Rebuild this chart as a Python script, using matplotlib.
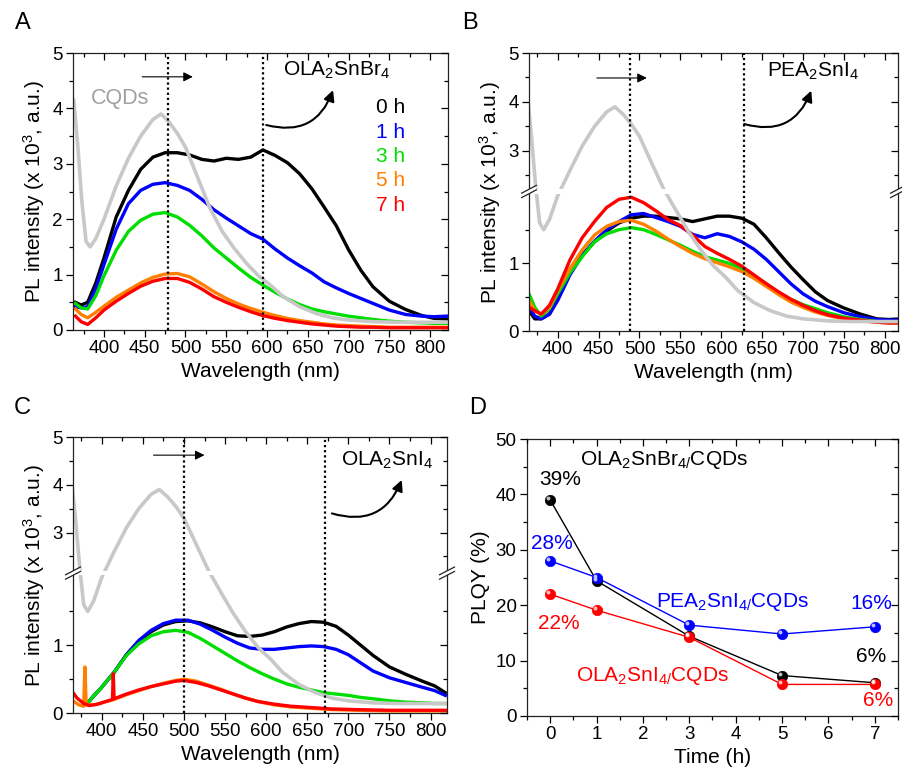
import numpy as np
import matplotlib
matplotlib.use('Agg')
import matplotlib.pyplot as plt
from matplotlib.ticker import MultipleLocator, FixedLocator
from matplotlib import transforms

plt.rcParams['font.family'] = ['Liberation Sans', 'DejaVu Sans']
plt.rcParams['mathtext.fontset'] = 'custom'
plt.rcParams['mathtext.rm'] = 'Liberation Sans'
plt.rcParams['mathtext.it'] = 'Liberation Sans:italic'
plt.rcParams['mathtext.bf'] = 'Liberation Sans:bold'

# --- data ---
# CQD reference spectrum (grey, same in A, B, C)
cqd_wl = [363, 368, 373, 378, 383, 390, 400, 415, 430, 445, 460, 470, 480, 490, 500,
          515, 530, 545, 560, 575, 590, 605, 620, 640, 660, 680, 700, 730, 760, 790, 820]
cqd = [4.15, 3.3, 2.3, 1.6, 1.5, 1.65, 2.0, 2.6, 3.1, 3.5, 3.8, 3.9, 3.75, 3.55, 3.3,
       2.75, 2.2, 1.78, 1.47, 1.2, 0.97, 0.8, 0.6, 0.42, 0.3, 0.22, 0.18, 0.15, 0.14, 0.14, 0.14]

wl = [365, 372, 380, 390, 400, 415, 430, 445, 460, 475, 490, 505, 520, 535, 550, 565,
      580, 595, 610, 625, 640, 655, 670, 685, 700, 715, 730, 750, 770, 790, 805, 820]

# A : OLA2SnBr4
a_0h = [0.5, 0.45, 0.5, 0.85, 1.3, 2.04, 2.52, 2.9, 3.12, 3.2, 3.2, 3.16, 3.08, 3.05, 3.1, 3.08,
        3.12, 3.25, 3.15, 3.02, 2.82, 2.55, 2.22, 1.88, 1.45, 1.08, 0.78, 0.52, 0.37, 0.26, 0.21, 0.2]
a_1h = [0.42, 0.4, 0.42, 0.75, 1.18, 1.82, 2.28, 2.52, 2.63, 2.66, 2.61, 2.52, 2.36, 2.17, 2.02, 1.88,
        1.74, 1.64, 1.46, 1.3, 1.16, 1.03, 0.87, 0.76, 0.66, 0.57, 0.48, 0.36, 0.28, 0.25, 0.24, 0.25]
a_3h = [0.48, 0.4, 0.38, 0.62, 0.98, 1.44, 1.78, 1.98, 2.09, 2.12, 2.04, 1.89, 1.7, 1.48, 1.3, 1.12,
        0.95, 0.81, 0.68, 0.56, 0.46, 0.38, 0.33, 0.29, 0.25, 0.22, 0.19, 0.16, 0.14, 0.13, 0.12, 0.12]
a_5h = [0.38, 0.28, 0.22, 0.32, 0.43, 0.59, 0.72, 0.85, 0.95, 1.01, 1.02, 0.96, 0.83, 0.69, 0.57, 0.47,
        0.39, 0.32, 0.26, 0.21, 0.17, 0.14, 0.11, 0.09, 0.08, 0.07, 0.06, 0.05, 0.05, 0.05, 0.05, 0.05]
a_7h = [0.25, 0.15, 0.1, 0.22, 0.36, 0.52, 0.66, 0.79, 0.88, 0.93, 0.93, 0.86, 0.74, 0.6, 0.5, 0.41,
        0.33, 0.26, 0.21, 0.17, 0.14, 0.11, 0.09, 0.07, 0.06, 0.05, 0.05, 0.04, 0.04, 0.04, 0.04, 0.04]

# B : PEA2SnI4
b_0h = [0.3, 0.18, 0.18, 0.25, 0.47, 0.85, 1.12, 1.32, 1.48, 1.6, 1.67, 1.7, 1.7, 1.68, 1.66, 1.62,
        1.66, 1.7, 1.7, 1.67, 1.58, 1.38, 1.16, 0.95, 0.76, 0.58, 0.45, 0.34, 0.25, 0.18, 0.17, 0.18]
b_1h = [0.38, 0.22, 0.18, 0.25, 0.45, 0.83, 1.12, 1.33, 1.5, 1.62, 1.72, 1.74, 1.68, 1.62, 1.55, 1.43,
        1.38, 1.44, 1.4, 1.32, 1.21, 1.06, 0.88, 0.7, 0.55, 0.44, 0.36, 0.27, 0.21, 0.17, 0.16, 0.16]
b_3h = [0.55, 0.35, 0.22, 0.33, 0.55, 0.86, 1.1, 1.32, 1.44, 1.5, 1.53, 1.5, 1.43, 1.35, 1.27, 1.18,
        1.1, 1.05, 1.0, 0.92, 0.82, 0.7, 0.57, 0.47, 0.39, 0.33, 0.27, 0.21, 0.17, 0.14, 0.12, 0.12]
b_5h = [0.45, 0.3, 0.25, 0.35, 0.6, 0.92, 1.2, 1.42, 1.55, 1.62, 1.64, 1.58, 1.48, 1.36, 1.25, 1.15,
        1.07, 1.01, 0.95, 0.88, 0.78, 0.66, 0.54, 0.43, 0.35, 0.28, 0.23, 0.18, 0.15, 0.13, 0.12, 0.12]
b_7h = [0.35, 0.3, 0.25, 0.38, 0.62, 1.05, 1.38, 1.62, 1.83, 1.95, 1.98, 1.9, 1.78, 1.65, 1.56, 1.42,
        1.25, 1.15, 1.06, 0.96, 0.83, 0.7, 0.58, 0.47, 0.38, 0.3, 0.24, 0.19, 0.16, 0.13, 0.12, 0.12]

# C : OLA2SnI4
wl_c = [383, 390, 400, 415, 430, 445, 460, 475, 490, 505, 520, 535, 550, 565, 580,
        595, 610, 625, 640, 655, 670, 685, 700, 715, 730, 750, 770, 790, 805, 818]
c_0h = [0.15, 0.25, 0.38, 0.6, 0.86, 1.06, 1.2, 1.3, 1.35, 1.36, 1.33, 1.27, 1.2, 1.14, 1.13,
        1.15, 1.2, 1.27, 1.32, 1.35, 1.34, 1.28, 1.15, 1.0, 0.85, 0.68, 0.57, 0.47, 0.4, 0.3]
c_1h = [0.15, 0.25, 0.38, 0.6, 0.86, 1.07, 1.22, 1.32, 1.37, 1.37, 1.31, 1.22, 1.12, 1.03, 0.96,
        0.94, 0.94, 0.96, 0.98, 0.99, 0.98, 0.94, 0.86, 0.74, 0.62, 0.52, 0.45, 0.38, 0.33, 0.26]
c_3h = [0.15, 0.25, 0.38, 0.6, 0.85, 1.02, 1.14, 1.2, 1.22, 1.19, 1.1, 0.99, 0.88, 0.77, 0.67,
        0.58, 0.5, 0.43, 0.38, 0.34, 0.3, 0.28, 0.26, 0.23, 0.21, 0.18, 0.16, 0.15, 0.14, 0.14]
wl_c5 = [365, 372, 378, 379.5, 381, 390, 400, 415, 430, 445, 460, 475, 490, 500, 515,
         530, 545, 560, 575, 590, 610, 630, 655, 680, 710, 750, 790, 820]
c_5h = [0.18, 0.12, 0.1, 0.68, 0.12, 0.12, 0.15, 0.2, 0.27, 0.33, 0.39, 0.44, 0.48, 0.5, 0.47,
        0.41, 0.35, 0.28, 0.22, 0.17, 0.12, 0.09, 0.07, 0.05, 0.04, 0.03, 0.03, 0.03]
wl_c7 = [365, 370, 378, 385, 395, 405, 413, 414, 415, 430, 445, 460, 475, 490, 500,
         515, 530, 545, 560, 575, 590, 610, 630, 655, 680, 710, 750, 790, 820]
c_7h = [0.3, 0.22, 0.14, 0.11, 0.13, 0.17, 0.2, 0.58, 0.21, 0.28, 0.34, 0.39, 0.43, 0.47, 0.48,
        0.45, 0.4, 0.34, 0.28, 0.22, 0.17, 0.13, 0.1, 0.08, 0.06, 0.05, 0.04, 0.04, 0.04]

# D : PLQY vs time
time_h = [0, 1, 3, 5, 7]
plqy_br = [39, 24.4, 14.4, 7.3, 6.0]
plqy_pea = [28, 25, 16.4, 14.8, 16.1]
plqy_ola = [22, 19.1, 14.2, 5.7, 5.7]

hours = ['0 h', '1 h', '3 h', '5 h', '7 h']
colors = ['#000000', '#0000ff', '#00dd00', '#ff8000', '#ff0000']
grey = '#c8c8c8'

fig = plt.figure(figsize=(9.03, 7.74), dpi=100)
W, H = 903., 774.


def make_ax(l, t, r, b):
    return fig.add_axes([l / W, 1 - b / H, (r - l) / W, (b - t) / H])


def finish(ax):
    ax.tick_params(which='both', direction='out', labelsize=13.5, width=0.9,
                   top=False, right=False, pad=2.5)
    ax.tick_params(which='major', length=5)
    ax.tick_params(which='minor', length=3)
    for s in ax.spines.values():
        s.set_linewidth(0.9)
        s.set_color('#222222')
    ov = fig.add_axes(ax.get_position(), sharex=ax, sharey=ax)
    ov.patch.set_visible(False)
    ov.tick_params(which='both', direction='in', top=True, right=True, bottom=False,
                   left=False, labelbottom=False, labelleft=False, width=0.9)
    ov.tick_params(which='major', length=5)
    ov.tick_params(which='minor', length=3)
    for s in ov.spines.values():
        s.set_visible(False)


def broken_scale(ax, lo, hi, ratio, gap=0.07):
    def fwd(y):
        y = np.asarray(y, float)
        return np.where(y <= lo, y, np.where(y <= hi, lo + (y - lo) * gap / (hi - lo),
                                             lo + gap + (y - hi) * ratio))

    def inv(s):
        s = np.asarray(s, float)
        return np.where(s <= lo, s, np.where(s <= lo + gap, lo + (s - lo) * (hi - lo) / gap,
                                             hi + (s - lo - gap) / ratio))
    ax.set_yscale('function', functions=(fwd, inv))
    ax.set_ylim(0, 5)
    ax.yaxis.set_major_locator(FixedLocator([0, 1, 3, 4, 5]))
    ax.yaxis.set_minor_locator(FixedLocator([0.5, 1.5, 2.5, 3.5, 4.5]))
    ax.axhspan(lo, hi, color='white', zorder=2.6, lw=0)
    yf = (fwd(lo) + gap / 2) / fwd(5)
    for xs in (0, 1):
        ax.add_patch(plt.Polygon([[xs - 0.02, yf - 0.022], [xs + 0.02, yf + 0.006],
                                  [xs + 0.02, yf + 0.022], [xs - 0.02, yf - 0.006]],
                                 closed=True, transform=ax.transAxes, facecolor='white',
                                 edgecolor='none', clip_on=False, zorder=5))
        for d in (-0.008, 0.008):
            ax.plot([xs - 0.02, xs + 0.02], [yf + d - 0.014, yf + d + 0.014], color='#222222',
                    lw=0.9, transform=ax.transAxes, clip_on=False, zorder=6)


def spectra_panel(ax, xlim, series, cqd_on_top=True):
    for x, y, c in series:
        ax.plot(x, y, color=c, lw=2.4, solid_joinstyle='round', zorder=2)
    ax.plot(cqd_wl, cqd, color=grey, lw=2.6, zorder=2.5 if cqd_on_top else 1.5)
    ax.set_xlim(*xlim)
    ax.xaxis.set_major_locator(MultipleLocator(50))
    ax.xaxis.set_minor_locator(MultipleLocator(25))
    ax.set_xlabel('Wavelength (nm)', fontsize=15, labelpad=3)
    ax.set_ylabel(r'PL intensity (x 10$^3$, a.u.)', fontsize=15, labelpad=4)


def arrows(ax, hx, hy, dx, curve_start, curve_end, label, label_xy):
    ax.annotate('', xy=(hx[1], hy), xytext=(hx[0], hy),
                arrowprops=dict(arrowstyle='-|>', color='black', lw=0.8, mutation_scale=14,
                                shrinkA=0, shrinkB=0), zorder=4)
    for x in dx:
        ax.axvline(x, color='black', ls=(0, (1, 1.3)), lw=1.6, zorder=3)
    ax.annotate('', xy=curve_end, xytext=curve_start,
                arrowprops=dict(arrowstyle='-|>', color='black', lw=1.5, mutation_scale=16,
                                connectionstyle='arc3,rad=0.45', shrinkA=0, shrinkB=0), zorder=4)
    ax.text(label_xy[0], label_xy[1], label, fontsize=15, ha='center', va='center', zorder=4)


# --- A ---
axA = make_ax(73, 53, 448, 330)
spectra_panel(axA, (362, 822), [(wl, a_0h, colors[0]), (wl, a_1h, colors[1]), (wl, a_3h, colors[2]),
                                (wl, a_5h, colors[3]), (wl, a_7h, colors[4])])
axA.set_ylim(0, 5)
axA.yaxis.set_major_locator(MultipleLocator(1))
axA.yaxis.set_minor_locator(MultipleLocator(0.5))
arrows(axA, (447, 509), 4.57, (478, 595), (599, 3.7), (681, 4.33), r'OLA$_2$SnBr$_4$', (685, 4.69))
axA.text(420, 4.18, 'CQDs', color='#a0a0a0', fontsize=15.5, ha='center', va='center')
for i, (h, c) in enumerate(zip(hours, colors)):
    axA.text(769, 4.01 - 0.44 * i, h, color=c, fontsize=15, ha='right', va='center')
finish(axA)

# --- B ---
axB = make_ax(529, 53, 898, 331)
spectra_panel(axB, (365, 816), [(wl, b_0h, colors[0]), (wl, b_1h, colors[1]), (wl, b_3h, colors[2]),
                                (wl, b_5h, colors[3]), (wl, b_7h, colors[4])])
broken_scale(axB, 2.03, 2.22, 0.725)
arrows(axB, (448, 509), 4.49, (489, 628), (628, 3.55), (710, 4.23), r'PEA$_2$SnI$_4$', (712, 4.63))
finish(axB)

# --- C ---
axC = make_ax(73, 437, 447, 713)
spectra_panel(axC, (365, 820), [(wl_c, c_0h, colors[0]), (wl_c, c_1h, colors[1]), (wl_c, c_3h, colors[2]),
                                (wl_c5, c_5h, colors[3]), (wl_c7, c_7h, colors[4])])
broken_scale(axC, 2.03, 2.2, 0.705)
arrows(axC, (463, 525), 4.62, (500, 671), (680, 3.4), (765, 4.1), r'OLA$_2$SnI$_4$', (747, 4.51))
finish(axC)

# --- D ---
axD = make_ax(527, 439, 898, 716)
hl = transforms.offset_copy(axD.transData, fig=fig, x=-1.4, y=1.4, units='points')
for y, c in [(plqy_br, '#000000'), (plqy_pea, '#0000ff'), (plqy_ola, '#ff0000')]:
    axD.plot(time_h, y, color=c, lw=1.0, zorder=2)
    axD.plot(time_h, y, 'o', ms=7.5, mfc=c, mec=c, mew=0.5, zorder=3)
    axD.plot(time_h, y, 'o', ms=2.8, mfc='white', mec='none', alpha=0.75, transform=hl, zorder=4)
axD.set_xlim(-0.5, 7.5)
axD.set_ylim(0, 50)
axD.xaxis.set_major_locator(MultipleLocator(1))
axD.xaxis.set_minor_locator(MultipleLocator(0.5))
axD.yaxis.set_major_locator(MultipleLocator(10))
axD.yaxis.set_minor_locator(MultipleLocator(5))
axD.set_xlabel('Time (h)', fontsize=15, labelpad=3)
axD.set_ylabel('PLQY (%)', fontsize=15, labelpad=4)
fs = 15
axD.text(2.46, 46.2, r'OLA$_2$SnBr$_{4/}$CQDs', fontsize=fs, ha='center', va='center')
axD.text(0.21, 42.6, '39%', fontsize=fs, ha='center', va='center')
axD.text(0.04, 31.1, '28%', fontsize=fs, ha='center', va='center', color='#0000ff')
axD.text(0.18, 16.7, '22%', fontsize=fs, ha='center', va='center', color='#ff0000')
axD.text(3.94, 20.6, r'PEA$_2$SnI$_{4/}$CQDs', fontsize=fs, ha='center', va='center', color='#0000ff')
axD.text(6.93, 20.3, '16%', fontsize=fs, ha='center', va='center', color='#0000ff')
axD.text(6.93, 10.7, '6%', fontsize=fs, ha='center', va='center')
axD.text(2.21, 7.2, r'OLA$_2$SnI$_{4/}$CQDs', fontsize=fs, ha='center', va='center', color='#ff0000')
axD.text(7.07, 2.8, '6%', fontsize=fs, ha='center', va='center', color='#ff0000')
finish(axD)

for lab, (x, y) in zip('ABCD', [(23, 23), (470, 23), (22, 408), (478, 408)]):
    fig.text(x / W, 1 - y / H, lab, fontsize=17, ha='center', va='center')

fig.savefig('out.png', dpi=100)
